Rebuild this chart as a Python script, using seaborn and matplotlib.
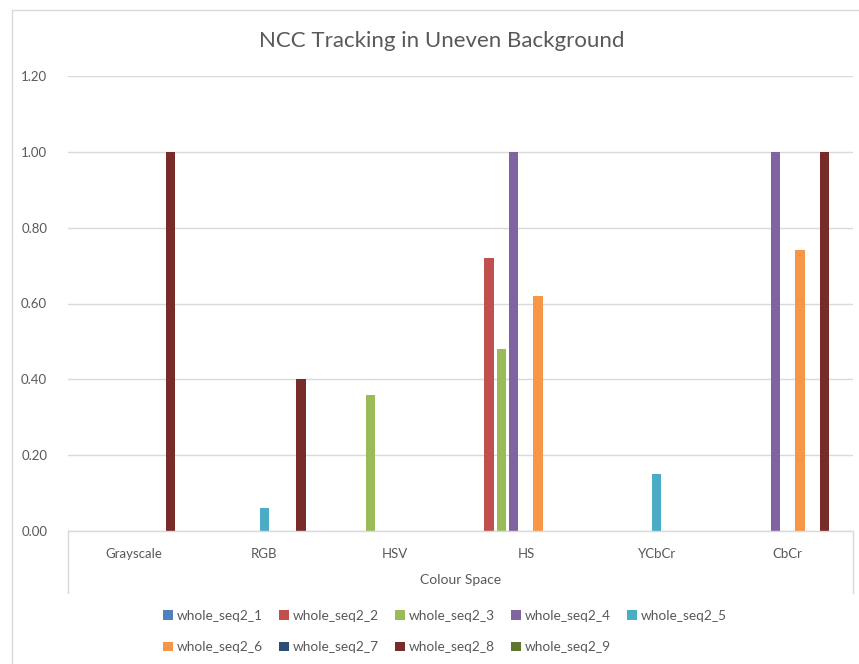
import numpy as np
import pandas as pd
import matplotlib
matplotlib.use("Agg")
import matplotlib.pyplot as plt
from matplotlib.patches import Rectangle
from matplotlib.lines import Line2D
import seaborn as sns

# Colour spaces on the category axis
categories = ["Grayscale", "RGB", "HSV", "HS", "YCbCr", "CbCr"]

# Tracking score of each sequence per colour space
whole_seq2_1 = [0.00, 0.00, 0.00, 0.00, 0.00, 0.00]
whole_seq2_2 = [0.00, 0.00, 0.00, 0.72, 0.00, 0.00]
whole_seq2_3 = [0.00, 0.00, 0.36, 0.48, 0.00, 0.00]
whole_seq2_4 = [0.00, 0.00, 0.00, 1.00, 0.00, 1.00]
whole_seq2_5 = [0.00, 0.06, 0.00, 0.00, 0.15, 0.00]
whole_seq2_6 = [0.00, 0.00, 0.00, 0.62, 0.00, 0.74]
whole_seq2_7 = [0.00, 0.00, 0.00, 0.00, 0.00, 0.00]
whole_seq2_8 = [1.00, 0.40, 0.00, 0.00, 0.00, 1.00]
whole_seq2_9 = [0.00, 0.00, 0.00, 0.00, 0.00, 0.00]

series_names = ["whole_seq2_1", "whole_seq2_2", "whole_seq2_3", "whole_seq2_4",
                "whole_seq2_5", "whole_seq2_6", "whole_seq2_7", "whole_seq2_8",
                "whole_seq2_9"]
series_values = [whole_seq2_1, whole_seq2_2, whole_seq2_3, whole_seq2_4,
                 whole_seq2_5, whole_seq2_6, whole_seq2_7, whole_seq2_8,
                 whole_seq2_9]

y_ticks = [0.0, 0.2, 0.4, 0.6, 0.8, 1.0, 1.2]

colors = ["#4F81BD", "#C0504D", "#9BBB59", "#8064A2", "#4BACC6",
          "#F79646", "#2C4D75", "#772C2A", "#5F7530"]

rows = []
for name, vals in zip(series_names, series_values):
    for cat, v in zip(categories, vals):
        rows.append({"Colour Space": cat, "Series": name, "Value": v})
df = pd.DataFrame(rows)

sns.set_theme(style="white")
plt.rcParams["font.family"] = ["Lato", "DejaVu Sans"]
text_color = "#595959"
grid_color = "#D9D9D9"

W, H = 859, 664
fig = plt.figure(figsize=(W / 100, H / 100), dpi=100)
fig.patch.set_facecolor("white")

# Outer chart frame
fig.add_artist(Rectangle((12 / W, -0.1), 1.2, 1 - 10 / H + 0.1,
                         transform=fig.transFigure, fill=False,
                         edgecolor=grid_color, linewidth=1.0))

left, right = 68 / W, 853 / W
bottom, top = 1 - 531 / H, 1 - 76 / H
ax = fig.add_axes([left, bottom, right - left, top - bottom])

sns.barplot(data=df, x="Colour Space", y="Value", hue="Series",
            hue_order=series_names, order=categories, palette=colors,
            saturation=1, width=0.847, gap=0.23, dodge=True, linewidth=0,
            errorbar=None, ax=ax, legend=False)

ax.set_ylim(0, 1.2)
ax.set_xlim(-0.5, len(categories) - 0.5)
ax.set_yticks(y_ticks)
ax.set_yticklabels([f"{t:.2f}" for t in y_ticks])
ax.yaxis.grid(True, color=grid_color, linewidth=1.0)
ax.set_axisbelow(True)
for s in ["left", "right", "top"]:
    ax.spines[s].set_visible(False)
ax.spines["bottom"].set_color(grid_color)
ax.spines["bottom"].set_linewidth(1.0)
ax.tick_params(axis="both", length=0, colors=text_color, labelsize=9.5)
ax.tick_params(axis="y", pad=15)
ax.tick_params(axis="x", pad=12)
ax.set_ylabel("")
ax.set_xlabel("Colour Space", color=text_color, fontsize=10, labelpad=10)

# Box around the category axis labels
drop = (593 - 531) / (531 - 76)
for xv in (0, 1):
    ax.add_line(Line2D([xv, xv], [0, -drop], transform=ax.transAxes,
                       color=grid_color, linewidth=1.0, clip_on=False))

fig.text(442 / W, 1 - 41 / H, "NCC Tracking in Uneven Background",
         ha="center", va="center", fontsize=16, color=text_color)

# Legend in two rows, filled left to right
handles = [Rectangle((0, 0), 1, 1, facecolor=c, edgecolor="none") for c in colors]
order = [0, 5, 1, 6, 2, 7, 3, 8, 4]
leg = fig.legend([handles[i] for i in order], [series_names[i] for i in order],
                 ncol=5, loc="upper left", bbox_to_anchor=(163 / W, 1 - 610 / H),
                 frameon=False, fontsize=9.8, handlelength=0.7, handleheight=0.7,
                 handletextpad=0.3, columnspacing=1.2, labelspacing=1.4,
                 borderpad=0, borderaxespad=0)
for t in leg.get_texts():
    t.set_color(text_color)

fig.savefig("out.png", dpi=100, facecolor="white")
